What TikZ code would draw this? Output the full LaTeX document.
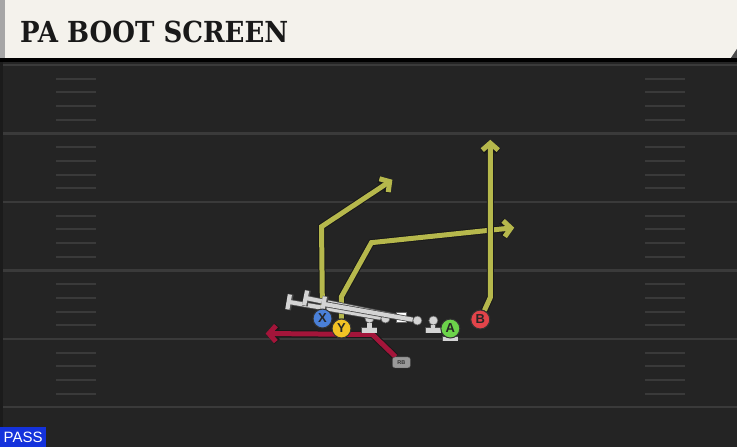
\documentclass[tikz,border=0pt]{standalone}
\usepackage{fontspec}
\setmainfont{Liberation Sans}
\newfontfamily\titlefont{DejaVu Serif}
\usetikzlibrary{arrows.meta}
\definecolor{fieldgray}{HTML}{242424}
\definecolor{linegray}{HTML}{3A3A3A}
\definecolor{headcream}{HTML}{F4F2EC}
\definecolor{routeyellow}{HTML}{B6B84C}
\definecolor{routered}{HTML}{A3153A}
\definecolor{olgray}{HTML}{D4D4D4}
\definecolor{passblue}{HTML}{1432DC}
\definecolor{xblue}{HTML}{4A80D8}
\definecolor{yyellow}{HTML}{F2C224}
\definecolor{agreen}{HTML}{6CD44A}
\definecolor{bred}{HTML}{E2444A}
\pgfdeclarelayer{field}
\pgfdeclarelayer{bg}
\pgfdeclarelayer{mid}
\pgfsetlayers{field,bg,mid,main}
\tikzset{
  route/.style={preaction={draw=black!90,line width=7pt,-{Straight Barb[length=7pt,width=16pt]}},
    draw=routeyellow,line width=5pt,-{Straight Barb[length=7pt,width=16pt]}},
  redroute/.style={route,draw=routered},
  player/.style={circle,draw=black!80,line width=1pt,minimum size=19pt,inner sep=0pt,
    font=\bfseries\fontsize{13}{13}\selectfont,text=black!85},
  lineman/.style={circle,fill=olgray,draw=black!60,line width=0.6pt,inner sep=0pt,minimum size=9pt},
  block/.style={preaction={draw=black!70,line width=5.8pt,-{Bar[width=16pt,line width=5.8pt]}},
    draw=olgray,line width=4.2pt,-{Bar[width=15pt]}}
}
\begin{document}
\begin{tikzpicture}[x=1pt,y=-1pt]
\begin{pgfonlayer}{field}
\fill[fieldgray](0,0) rectangle (738,448);
\fill[black!25!fieldgray](0,58) rectangle (3,448);
\foreach \k in {0,...,5}
  \draw[linegray,line width=2.2pt](3,65+68.6*\k)--(738,65+68.6*\k);
\foreach \k in {0,...,4}
\foreach \j in {1,...,4}
{
  \draw[linegray,line width=2pt](56,65+68.6*\k+13.72*\j)--(96,65+68.6*\k+13.72*\j);
  \draw[linegray,line width=2pt](646,65+68.6*\k+13.72*\j)--(686,65+68.6*\k+13.72*\j);
}
\fill[black](0,58) rectangle (738,62);
\fill[headcream](0,0) rectangle (738,58);
\fill[gray!70](0,0) rectangle (5,58);
\fill[black!70](738,49)--(738,58)--(732,58)--cycle;
\end{pgfonlayer}
\node[anchor=base west,inner sep=0pt,xscale=0.9,font=\titlefont\bfseries\fontsize{29}{29}\selectfont,text=black!90] (title) at (20,43) {PA BOOT SCREEN};
\node[anchor=south west,fill=passblue,text=white,font=\fontsize{15}{15}\selectfont,
  minimum width=46pt,minimum height=20pt,inner sep=0pt] (pass) at (0,448) {PASS};

\node[player,fill=xblue] (X) at (323,319) {X};
\node[player,fill=yyellow] (Y) at (342,329) {Y};
\node[player,fill=agreen] (A) at (451,329) {A};
\node[player,fill=bred] (B) at (481,320) {B};
\node[rounded corners=2.5pt,fill=gray!80,draw=black!70,minimum width=18pt,minimum height=11pt,inner sep=0pt,
  font=\bfseries\fontsize{5.5}{5.5}\selectfont,text=black!80] (RB) at (402,363) {RB};

\coordinate (xcut) at (322,227);
\coordinate (xend) at (393,180);
\coordinate (ystem) at (342,297);
\coordinate (ycut) at (372,243);
\coordinate (yend) at (515,228);
\coordinate (bcut) at (491,298);
\coordinate (bend) at (491,140);
\coordinate (rbcut) at (373,335);
\coordinate (rbend) at (266,334);

\begin{pgfonlayer}{bg}
\draw[route](X)--(xcut)--(xend);
\draw[route](Y)--(ystem)--(ycut)--(yend);
\draw[route](B)--(bcut)--(bend);
\draw[redroute](RB)--(rbcut)--(rbend);
\end{pgfonlayer}

\begin{pgfonlayer}{mid}
\coordinate (ltset) at (370,333);
\coordinate (rtset) at (434,333);
\coordinate (aset) at (451,342);
\coordinate (lgslide) at (287,302);
\coordinate (cslide) at (304,298);
\coordinate (rgslide) at (322,304);
\node[lineman] (lt) at (370,319) {};
\node[lineman] (lg) at (386,319) {};
\node[fill=white,draw=black!60,line width=0.6pt,inner sep=0pt,minimum size=10pt] (c) at (402,318) {};
\node[lineman] (rg) at (418,321) {};
\node[lineman] (rt) at (434,321) {};
\draw[block](lg)--(lgslide);
\draw[block](c)--(cslide);
\draw[block](rg)--(rgslide);
\draw[block](lt)--(ltset);
\draw[block](rt)--(rtset);
\draw[block](A)--(aset);
\end{pgfonlayer}
\end{tikzpicture}
\end{document}
